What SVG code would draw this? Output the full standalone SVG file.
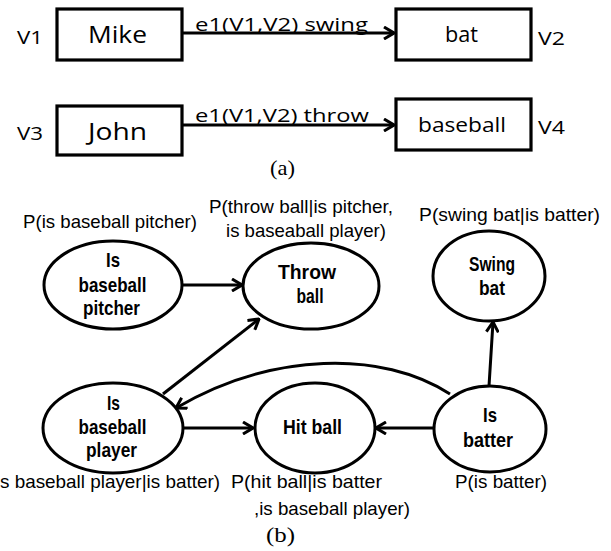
<svg xmlns="http://www.w3.org/2000/svg" width="611" height="551" viewBox="0 0 611 551">
  <style>
    .box { fill: #fff; stroke: #000; stroke-width: 3.2; }
    .node { fill: #fff; stroke: #000; stroke-width: 3; }
    .edge { fill: none; stroke: #000; stroke-width: 3; }
    .wide { font-family: "Open Sans", "DejaVu Sans", sans-serif; fill: #000; }
    .cond { font-family: "Liberation Sans Narrow", "Liberation Sans", sans-serif; fill: #000; font-size: 18.5px; }
    .bold { font-family: "Liberation Sans Narrow", "Liberation Sans", sans-serif; fill: #000; font-size: 21px; font-weight: bold; text-anchor: middle; }
    .cap { font-family: "Liberation Serif", serif; font-size: 21px; fill: #000; }
  </style>
  <defs>
    <marker id="chev" viewBox="0 0 12 14" refX="11" refY="7" markerWidth="12" markerHeight="14" markerUnits="userSpaceOnUse" orient="auto">
      <path d="M1,1 L11,7 L1,13" fill="none" stroke="#000" stroke-width="3" stroke-linejoin="miter"/>
    </marker>
  </defs>

  <!-- (a) word-level graph -->
  <g id="mike">
    <rect class="box" x="57" y="9" width="125" height="51"/>
    <text class="wide" x="88" y="43" font-size="23" textLength="59" lengthAdjust="spacingAndGlyphs">Mike</text>
  </g>
  <g id="bat">
    <rect class="box" x="396" y="9" width="135" height="51"/>
    <text class="wide" x="445" y="42" font-size="21" textLength="33" lengthAdjust="spacingAndGlyphs">bat</text>
  </g>
  <g id="john">
    <rect class="box" x="57" y="106" width="125" height="49"/>
    <text class="wide" x="88" y="140" font-size="23" textLength="59" lengthAdjust="spacingAndGlyphs">John</text>
  </g>
  <g id="baseball">
    <rect class="box" x="396" y="99" width="135" height="51"/>
    <text class="wide" x="418" y="132" font-size="20" textLength="88" lengthAdjust="spacingAndGlyphs">baseball</text>
  </g>
  <g id="var-labels" class="wide" font-size="18">
    <text x="17" y="44" textLength="26" lengthAdjust="spacingAndGlyphs">V1</text>
    <text x="538" y="45" textLength="27" lengthAdjust="spacingAndGlyphs">V2</text>
    <text x="17" y="140" textLength="26" lengthAdjust="spacingAndGlyphs">V3</text>
    <text x="538" y="134" textLength="27" lengthAdjust="spacingAndGlyphs">V4</text>
  </g>
  <text class="cap" x="270" y="175" textLength="25" lengthAdjust="spacingAndGlyphs">(a)</text>

  <!-- (b) Bayesian network -->
  <g id="is-baseball-pitcher">
    <ellipse class="node" cx="113" cy="285" rx="69" ry="44"/>
    <text class="bold" x="113" y="267" textLength="14" lengthAdjust="spacingAndGlyphs">Is</text>
    <text class="bold" x="112.5" y="292" textLength="68" lengthAdjust="spacingAndGlyphs">baseball</text>
    <text class="bold" x="111.5" y="315" textLength="57" lengthAdjust="spacingAndGlyphs">pitcher</text>
  </g>
  <g id="throw-ball">
    <ellipse class="node" cx="311" cy="286" rx="68" ry="43"/>
    <text class="bold" x="307" y="279" textLength="58" lengthAdjust="spacingAndGlyphs">Throw</text>
    <text class="bold" x="310" y="303" textLength="27" lengthAdjust="spacingAndGlyphs">ball</text>
  </g>
  <g id="swing-bat">
    <ellipse class="node" cx="489" cy="276" rx="56" ry="45"/>
    <text class="bold" x="492" y="271" textLength="46" lengthAdjust="spacingAndGlyphs">Swing</text>
    <text class="bold" x="492" y="295" textLength="26" lengthAdjust="spacingAndGlyphs">bat</text>
  </g>
  <g id="is-baseball-player">
    <ellipse class="node" cx="113" cy="428" rx="70" ry="45"/>
    <text class="bold" x="113.5" y="410" textLength="13" lengthAdjust="spacingAndGlyphs">Is</text>
    <text class="bold" x="112.5" y="434" textLength="68" lengthAdjust="spacingAndGlyphs">baseball</text>
    <text class="bold" x="111.5" y="457" textLength="51" lengthAdjust="spacingAndGlyphs">player</text>
  </g>
  <g id="hit-ball">
    <ellipse class="node" cx="315" cy="428" rx="60" ry="45"/>
    <text class="bold" x="312.5" y="434" textLength="59" lengthAdjust="spacingAndGlyphs">Hit ball</text>
  </g>
  <g id="is-batter">
    <ellipse class="node" cx="490" cy="429" rx="56" ry="43"/>
    <text class="bold" x="490" y="422" textLength="14" lengthAdjust="spacingAndGlyphs">Is</text>
    <text class="bold" x="488" y="447" textLength="50" lengthAdjust="spacingAndGlyphs">batter</text>
  </g>

  <!-- probability annotations -->
  <g id="annotations" class="cond">
    <text x="23" y="228" textLength="174" lengthAdjust="spacingAndGlyphs">P(is baseball pitcher)</text>
    <text x="209" y="213" textLength="184" lengthAdjust="spacingAndGlyphs">P(throw ball|is pitcher,</text>
    <text x="226" y="237" textLength="160" lengthAdjust="spacingAndGlyphs">is baseaball player)</text>
    <text x="419" y="221" textLength="181" lengthAdjust="spacingAndGlyphs">P(swing bat|is batter)</text>
    <text x="0" y="488" textLength="220" lengthAdjust="spacingAndGlyphs">s baseball player|is batter)</text>
    <text x="231" y="488" textLength="151" lengthAdjust="spacingAndGlyphs">P(hit ball|is batter</text>
    <text x="254" y="515" textLength="156" lengthAdjust="spacingAndGlyphs">,is baseball player)</text>
    <text x="455" y="488" textLength="92" lengthAdjust="spacingAndGlyphs">P(is batter)</text>
  </g>
  <text class="cap" x="266" y="542" textLength="29" lengthAdjust="spacingAndGlyphs">(b)</text>

  <!-- connectors -->
  <g id="connectors">
    <line class="edge" x1="182" y1="33" x2="394" y2="33" marker-end="url(#chev)"/>
    <line class="edge" x1="182" y1="125" x2="394" y2="125" marker-end="url(#chev)"/>
    <text class="wide" x="195" y="31" font-size="18" textLength="173" lengthAdjust="spacingAndGlyphs">e1(V1,V2) swing</text>
    <text class="wide" x="195" y="122" font-size="18" textLength="174" lengthAdjust="spacingAndGlyphs">e1(V1,V2) throw</text>

    <line class="edge" x1="182" y1="285" x2="242" y2="285" marker-end="url(#chev)"/>
    <line class="edge" x1="163" y1="394" x2="259" y2="319" marker-end="url(#chev)"/>
    <line class="edge" x1="183" y1="428" x2="253" y2="428" marker-end="url(#chev)"/>
    <line class="edge" x1="434" y1="428" x2="376" y2="428" marker-end="url(#chev)"/>
    <line class="edge" x1="489" y1="386" x2="493" y2="322" marker-end="url(#chev)"/>
    <path class="edge" d="M450,394 C382,350 272,352 176,408" marker-end="url(#chev)"/>
  </g>
</svg>
